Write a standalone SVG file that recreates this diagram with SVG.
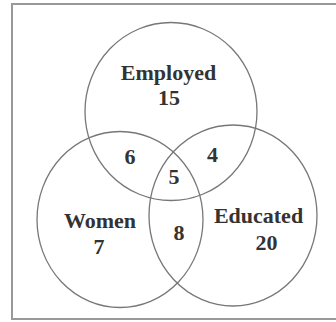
<svg xmlns="http://www.w3.org/2000/svg" width="336" height="322" viewBox="0 0 336 322">
<style>
.frame{fill:#fff;stroke:#999;stroke-width:2}
.set{fill:none;stroke:#777;stroke-width:1.3}
.t{font-family:"Liberation Serif","Times New Roman",serif;font-weight:bold;font-size:22px;fill:#333;text-anchor:middle}
</style>
<rect x="0" y="0" width="336" height="322" fill="#fff"/>
<rect class="frame" x="12" y="4" width="340" height="315"/>
<g id="employed">
<ellipse class="set" cx="171" cy="111.5" rx="86" ry="89"/>
<text class="t" x="168.5" y="80">Employed</text>
<text class="t" x="169" y="105">15</text>
</g>
<g id="women">
<ellipse class="set" cx="120" cy="219.5" rx="83" ry="88"/>
<text class="t" x="100" y="228">Women</text>
<text class="t" x="99" y="254">7</text>
</g>
<g id="educated">
<ellipse class="set" cx="233" cy="215.5" rx="84" ry="90.5"/>
<text class="t" x="258.5" y="222.5">Educated</text>
<text class="t" x="266.5" y="250">20</text>
</g>
<g id="overlaps">
<text class="t" x="130" y="163.5">6</text>
<text class="t" x="212.5" y="161.5">4</text>
<text class="t" x="174" y="184">5</text>
<text class="t" x="179" y="240">8</text>
</g>
<g id="connectors"></g>
</svg>
